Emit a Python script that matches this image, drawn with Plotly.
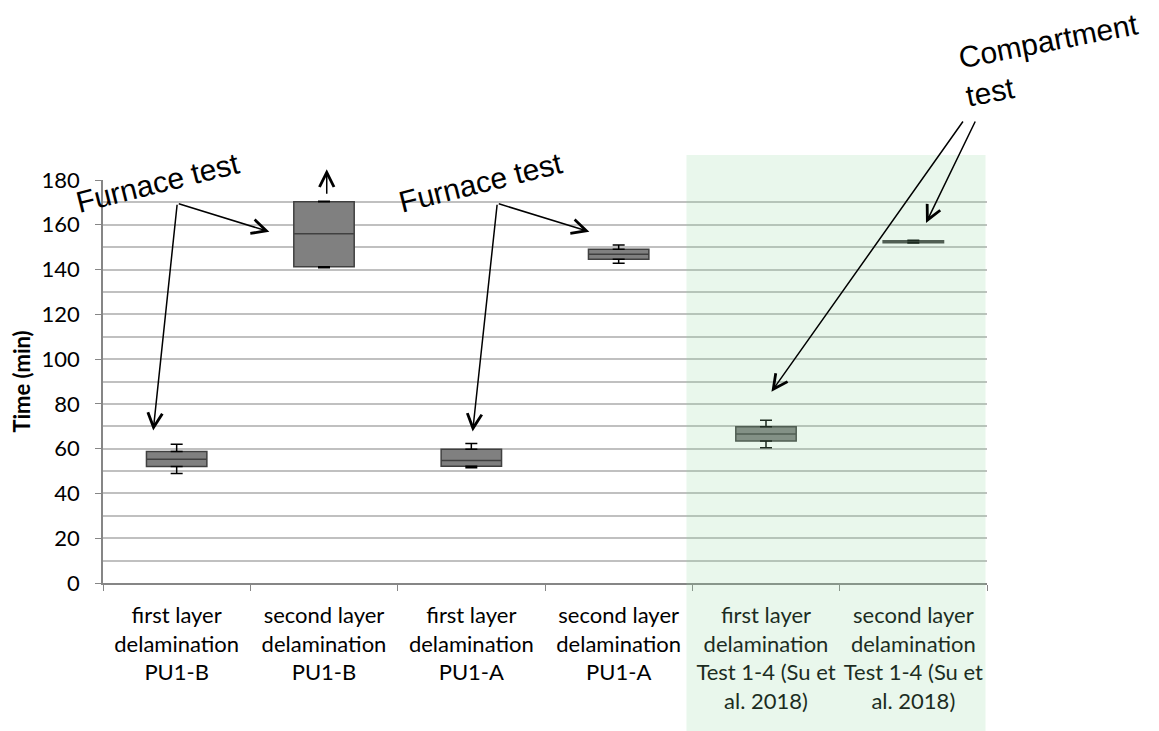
import plotly.graph_objects as go

# ---- data ----
categories = [
    "first layer<br>delamination<br>PU1-B",
    "second layer<br>delamination<br>PU1-B",
    "first layer<br>delamination<br>PU1-A",
    "second layer<br>delamination<br>PU1-A",
    "first layer<br>delamination<br>Test 1-4 (Su et<br>al. 2018)",
    "second layer<br>delamination<br>Test 1-4 (Su et<br>al. 2018)",
]
minimum = [48.9, 140.8, 51.5, 142.8, 60.4, 151.9]
q1 = [52.0, 141.2, 52.2, 144.6, 63.4, 152.0]
median = [55.3, 156.0, 54.7, 146.8, 66.6, 152.5]
q3 = [58.7, 170.3, 59.7, 149.1, 69.8, 152.9]
maximum = [62.0, 170.5, 62.3, 151.0, 72.7, 153.1]

y_ticks = [0, 20, 40, 60, 80, 100, 120, 140, 160, 180]

FONT = "Lato"
ANN_FONT = "Liberation Sans"

fig = go.Figure()

fig.add_trace(go.Box(
    x=categories, q1=q1, median=median, q3=q3,
    lowerfence=q1, upperfence=q3,
    whiskerwidth=0, width=0.41,
    fillcolor="#808080",
    line=dict(color="#404040", width=1.5),
    boxpoints=False, showlegend=False, hoverinfo="skip",
))

# upper whiskers
fig.add_trace(go.Scatter(
    x=categories, y=q3, mode="markers",
    marker=dict(size=1, color="rgba(0,0,0,0)"),
    error_y=dict(type="data", symmetric=False,
                 array=[mx - b for mx, b in zip(maximum, q3)],
                 arrayminus=[0] * len(q3),
                 color="black", thickness=1.5, width=6),
    showlegend=False, hoverinfo="skip",
))
# lower whiskers
fig.add_trace(go.Scatter(
    x=categories, y=q1, mode="markers",
    marker=dict(size=1, color="rgba(0,0,0,0)"),
    error_y=dict(type="data", symmetric=False,
                 array=[0] * len(q1),
                 arrayminus=[b - mn for mn, b in zip(minimum, q1)],
                 color="black", thickness=1.5, width=6),
    showlegend=False, hoverinfo="skip",
))

# green highlighted region (compartment tests)
fig.add_shape(type="rect", xref="x", yref="paper",
              x0=3.46, x1=5.49, y0=-0.40, y1=1.062,
              fillcolor="rgba(145,215,160,0.2)", line=dict(width=0),
              layer="above")

arrow_style = dict(showarrow=True, arrowhead=5, arrowsize=1.9, arrowwidth=1.5,
                   arrowcolor="black", axref="x", ayref="y", xref="x", yref="y",
                   text="", standoff=0, startstandoff=0)

arrows = [
    # (tail_x, tail_y, head_x, head_y)
    (0.004, 169.6, -0.159, 68.1),
    (0.004, 169.6, 0.629, 156.9),
    (2.176, 169.6, 2.009, 67.7),
    (2.176, 169.6, 2.801, 156.9),
    (5.344, 206.8, 4.037, 85.4),
    (5.425, 206.8, 5.086, 160.8),
]
for tx, ty, hx, hy in arrows:
    fig.add_annotation(x=hx, y=hy, ax=tx, ay=ty, **arrow_style)

# upward arrow above the second box (paper coords, pixel offset tail)
fig.add_annotation(x=0.2531, y=1.0265, xref="paper", yref="paper",
                   ax=0, ay=26, axref="pixel", ayref="pixel", text="",
                   showarrow=True, arrowhead=5, arrowsize=1.9, arrowwidth=1.5,
                   arrowcolor="black", standoff=0, startstandoff=0)

labels = [
    ("Furnace test", 0.0622, 0.995, -14),
    ("Furnace test", 0.4265, 0.995, -14),
    ("Compartment<br>test", 1.0735, 1.297, -11),
]
for txt, x, y, ang in labels:
    fig.add_annotation(x=x, y=y, xref="paper", yref="paper", text=txt, showarrow=False,
                       textangle=ang, align="left", xanchor="center", yanchor="middle",
                       font=dict(family=ANN_FONT, size=30, color="black"))

fig.update_xaxes(
    type="category", range=[-0.5, 5.5],
    showline=True, linecolor="#868686", linewidth=1.5,
    ticks="outside", tickson="boundaries", ticklen=6, tickcolor="#868686",
    tickfont=dict(family=FONT, size=22, color="black"), tickangle=0,
    ticklabelstandoff=12,
    showgrid=False,
)
fig.update_yaxes(
    range=[0, 180], tickvals=y_ticks,
    showline=True, linecolor="#868686", linewidth=1.5,
    ticks="outside", ticklen=6, tickcolor="#868686",
    tickfont=dict(family=FONT, size=22, color="black"),
    showgrid=True, gridcolor="#c0c0c0", gridwidth=1.5,
    minor=dict(dtick=10, showgrid=True, gridcolor="#c0c0c0", gridwidth=1.5, ticks=""),
    zeroline=False,
    title=dict(text="<b>Time (min)</b>", font=dict(family=FONT, size=22, color="black"), standoff=8),
    ticklabelstandoff=11,
)

fig.update_layout(
    width=1159, height=731,
    margin=dict(l=95, r=180, t=172, b=156, autoexpand=False),
    paper_bgcolor="white", plot_bgcolor="white",
    showlegend=False,
)

fig.write_html("out.html")
